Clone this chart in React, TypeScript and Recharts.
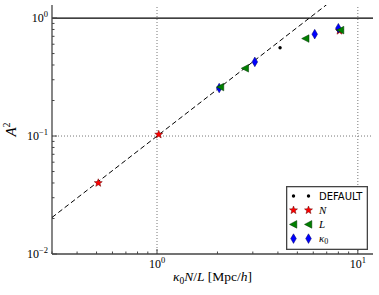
import React from 'react';
import { ComposedChart, Scatter, XAxis, YAxis, ReferenceLine, Legend, Label } from 'recharts';

// tick positions (log axes, majors get a label)
const xTicks = [0.3, 0.4, 0.5, 0.6, 0.7, 0.8, 0.9, 1, 2, 3, 4, 5, 6, 7, 8, 9, 10];
const xMajor = [1, 10];
const yTicks = [0.01, 0.02, 0.03, 0.04, 0.05, 0.06, 0.07, 0.08, 0.09, 0.1, 0.2, 0.3, 0.4, 0.5, 0.6, 0.7, 0.8, 0.9, 1];
const yMajor = [0.01, 0.1, 1];

// series
const defaultX = [4.1];
const defaultY = [0.56];
const nX = [0.51, 1.02, 8.1];
const nY = [0.04, 0.103, 0.78];
const lX = [2.07, 2.75, 5.5, 8.2];
const lY = [0.26, 0.375, 0.67, 0.79];
const kX = [2.04, 3.07, 6.1, 8.0];
const kY = [0.255, 0.425, 0.73, 0.82];
const fitX = [0.3, 7.0];
const fitY = [0.0204, 1.3];

const zip = (xs: number[], ys: number[]) => xs.map((x, i) => ({ x, y: ys[i] }));

const SERIF = '"Liberation Serif", "DejaVu Serif", serif';
const SANS = '"DejaVu Sans", sans-serif';
const FRAME = '#444';

const starPath = (cx: number, cy: number, R: number, r: number) => {
  let d = '';
  for (let i = 0; i < 10; i++) {
    const a = -Math.PI / 2 + (i * Math.PI) / 5;
    const rr = i % 2 ? r : R;
    d += (i ? 'L' : 'M') + (cx + rr * Math.cos(a)).toFixed(2) + ',' + (cy + rr * Math.sin(a)).toFixed(2);
  }
  return d + 'Z';
};

const Dot = ({ cx, cy }: any) => <circle cx={cx} cy={cy} r={1.7} fill="#000" />;
const Star = ({ cx, cy }: any) => (
  <path d={starPath(cx, cy, 4.2, 1.8)} fill="#ff0000" stroke="#600" strokeWidth={0.5} />
);
const TriLeft = ({ cx, cy }: any) => (
  <path d={`M${cx - 4},${cy}L${cx + 3.3},${cy - 3.8}L${cx + 3.3},${cy + 3.8}Z`} fill="#008000" stroke="#003000" strokeWidth={0.5} />
);
const Diamond = ({ cx, cy }: any) => (
  <path d={`M${cx},${cy - 4.8}L${cx + 2.8},${cy}L${cx},${cy + 4.8}L${cx - 2.8},${cy}Z`} fill="#0000ff" stroke="#000060" strokeWidth={0.5} />
);
const NoShape = () => <g />;

const Pow = ({ x, y, exp, anchor }: any) => (
  <text x={x} y={y} textAnchor={anchor} fontFamily={SERIF} fontSize={12} fill="#000">
    10<tspan dy={-5} fontSize={8.5}>{exp}</tspan>
  </text>
);

const expOf = (v: number) => {
  const e = Math.round(Math.log10(v));
  return e < 0 ? '\u2212' + -e : String(e);
};

const XTickBottom = ({ x, y, payload }: any) => {
  const major = xMajor.includes(payload.value);
  return (
    <g>
      <line x1={x} x2={x} y1={y} y2={y - (major ? 5 : 2.5)} stroke={FRAME} />
      {major && <Pow x={x} y={y + 13.5} exp={expOf(payload.value)} anchor="middle" />}
    </g>
  );
};
const XTickTop = ({ x, y, payload }: any) => {
  const major = xMajor.includes(payload.value);
  return <line x1={x} x2={x} y1={y} y2={y + (major ? 5 : 2.5)} stroke={FRAME} />;
};
const YTickLeft = ({ x, y, payload }: any) => {
  const major = yMajor.includes(payload.value);
  return (
    <g>
      <line x1={x} x2={x + (major ? 5 : 2.5)} y1={y} y2={y} stroke={FRAME} />
      {major && <Pow x={x - 4} y={y + 4} exp={expOf(payload.value)} anchor="end" />}
    </g>
  );
};
const YTickRight = ({ x, y, payload }: any) => {
  const major = yMajor.includes(payload.value);
  return <line x1={x} x2={x - (major ? 5 : 2.5)} y1={y} y2={y} stroke={FRAME} />;
};

const legendRows = [
  { label: 'DEFAULT', Marker: Dot },
  { label: 'N', Marker: Star },
  { label: 'L', Marker: TriLeft },
  { label: 'k', Marker: Diamond },
];

const renderLegend = () => (
  <svg width={82} height={64} style={{ display: 'block' }}>
    <rect x={0.65} y={0.65} width={80.7} height={62.7} fill="#fff" stroke={FRAME} strokeWidth={1.3} />
    {legendRows.map((row, i) => {
      const cy = 10 + i * 14.2;
      const M = row.Marker;
      return (
        <g key={row.label}>
          <M cx={7.5} cy={cy} />
          <M cx={22.5} cy={cy} />
          {row.label === 'DEFAULT' ? (
            <text x={33} y={cy + 3.8} fontFamily={SANS} fontSize={10}>DEFAULT</text>
          ) : row.label === 'k' ? (
            <text x={33} y={cy + 3} fontFamily={SERIF} fontSize={11} fontStyle="italic">
              κ<tspan dy={2} fontSize={8} fontStyle="normal">0</tspan>
            </text>
          ) : (
            <text x={33} y={cy + 4} fontFamily={SERIF} fontSize={11} fontStyle="italic">{row.label}</text>
          )}
        </g>
      );
    })}
  </svg>
);

const XLabel = ({ viewBox }: any) => (
  <text x={viewBox.x + viewBox.width / 2} y={viewBox.y + 27} textAnchor="middle" fontFamily={SERIF} fontSize={13.5} fill="#000">
    <tspan fontStyle="italic">κ</tspan>
    <tspan dy={3} fontSize={9.5}>0</tspan>
    <tspan dy={-3} fontStyle="italic">N</tspan>/<tspan fontStyle="italic">L</tspan> [Mpc/<tspan fontStyle="italic">h</tspan>]
  </text>
);

const YLabel = ({ viewBox }: any) => {
  const cx = 16;
  const cy = viewBox.y + viewBox.height / 2;
  return (
    <text x={cx} y={cy} transform={`rotate(-90 ${cx} ${cy})`} textAnchor="middle" fontFamily={SERIF} fontSize={15} fill="#000">
      <tspan fontStyle="italic">A</tspan>
      <tspan dy={-6} fontSize={10}>2</tspan>
    </text>
  );
};

export default function App() {
  const grid = { stroke: '#777', strokeDasharray: '1 2', strokeWidth: 1 };
  const axisLine = { stroke: FRAME, strokeWidth: 1.3 };
  return (
    <div style={{ position: 'absolute', left: 0, top: 0, background: '#fff' }}>
      <ComposedChart width={379} height={295} margin={{ top: 5, right: 6, left: 12, bottom: 11 }}>
        <XAxis
          xAxisId="b"
          type="number"
          dataKey="x"
          scale="log"
          domain={[0.3, 11.9]}
          allowDataOverflow
          ticks={xTicks}
          interval={0}
          height={30}
          tickSize={0}
          tickMargin={0}
          tickLine={false}
          axisLine={axisLine}
          tick={<XTickBottom />}
        >
          <Label content={<XLabel />} />
        </XAxis>
        <XAxis
          xAxisId="t"
          orientation="top"
          type="number"
          dataKey="x"
          scale="log"
          domain={[0.3, 11.9]}
          allowDataOverflow
          ticks={xTicks}
          interval={0}
          height={0}
          tickSize={0}
          tickMargin={0}
          tickLine={false}
          axisLine={axisLine}
          tick={<XTickTop />}
        />
        <YAxis
          yAxisId="l"
          type="number"
          dataKey="y"
          scale="log"
          domain={[0.01, 1.29]}
          allowDataOverflow
          ticks={yTicks}
          interval={0}
          width={40}
          tickSize={0}
          tickMargin={0}
          tickLine={false}
          axisLine={axisLine}
          tick={<YTickLeft />}
        >
          <Label content={<YLabel />} />
        </YAxis>
        <YAxis
          yAxisId="r"
          orientation="right"
          type="number"
          dataKey="y"
          scale="log"
          domain={[0.01, 1.29]}
          allowDataOverflow
          ticks={yTicks}
          interval={0}
          width={0}
          tickSize={0}
          tickMargin={0}
          tickLine={false}
          axisLine={axisLine}
          tick={<YTickRight />}
        />
        <ReferenceLine xAxisId="b" yAxisId="l" x={1} {...grid} />
        <ReferenceLine xAxisId="b" yAxisId="l" x={10} {...grid} />
        <ReferenceLine xAxisId="b" yAxisId="l" y={0.1} {...grid} />
        <ReferenceLine xAxisId="b" yAxisId="l" y={1} stroke="#000" strokeWidth={1.3} />
        <Scatter
          xAxisId="b"
          yAxisId="l"
          data={zip(fitX, fitY)}
          line={{ stroke: '#000', strokeWidth: 1, strokeDasharray: '5 3' }}
          shape={<NoShape />}
          isAnimationActive={false}
        />
        <Scatter xAxisId="b" yAxisId="l" data={zip(defaultX, defaultY)} shape={<Dot />} isAnimationActive={false} />
        <Scatter xAxisId="b" yAxisId="l" data={zip(nX, nY)} shape={<Star />} isAnimationActive={false} />
        <Scatter xAxisId="b" yAxisId="l" data={zip(kX, kY)} shape={<Diamond />} isAnimationActive={false} />
        <Scatter xAxisId="b" yAxisId="l" data={zip(lX, lY)} shape={<TriLeft />} isAnimationActive={false} />
        <Legend
          layout="horizontal"
          verticalAlign="middle"
          align="center"
          content={renderLegend}
          wrapperStyle={{ position: 'absolute', left: 286, top: 186, width: 82, height: 64 }}
        />
      </ComposedChart>
    </div>
  );
}
